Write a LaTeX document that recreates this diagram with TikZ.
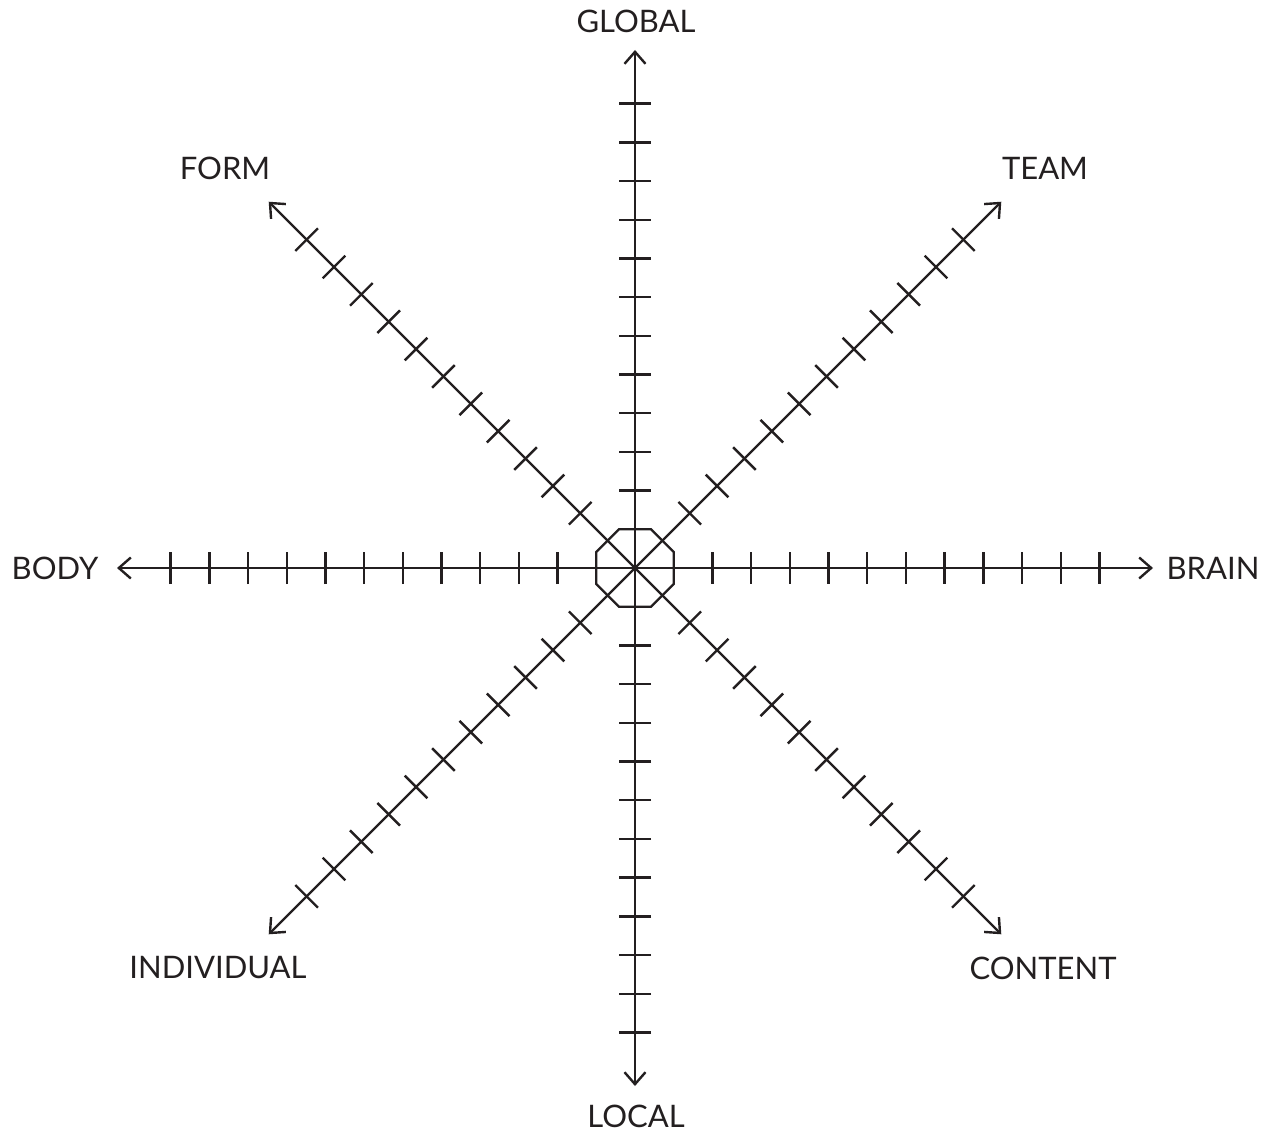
\documentclass[tikz,border=0pt]{standalone}
\usepackage{fontspec}
\setmainfont{Lato}
\usetikzlibrary{arrows.meta,calc}
\definecolor{ink}{HTML}{231F20}
\begin{document}
\begin{tikzpicture}[x=1pt,y=-1pt,
  axis/.style={draw=ink,line width=2.4pt,-{Straight Barb[length=12pt,width=21pt,line width=2.4pt]}},
  tickmark/.style={draw=ink,line width=2.4pt},
  lbl/.style={text=ink,font=\fontsize{31}{36}\selectfont,inner sep=0pt}]
\useasboundingbox (0,0) rectangle (1270,1132);
\coordinate (O) at (635,568);
\foreach \a/\n in {0/E,45/SE,90/S,135/SW,180/W,225/NW,270/N,315/NE}{
  \coordinate (\n) at ($(O)+(\a:518)$);
}
% axes
\foreach \n in {E,SE,S,SW,W,NW,N,NE}{
  \draw[axis] (O) -- (\n);
}
% ticks
\foreach \a in {0,45,...,315}{
  \begin{scope}[shift={(O)},rotate=\a]
    \foreach \k in {2,...,12}{
      \draw[tickmark] (\k*38.7,-16) -- (\k*38.7,16);
    }
  \end{scope}
}
% central octagon
\draw[tickmark,line join=miter] ($(O)+(22.5:41.9)$)
  \foreach \b in {67.5,112.5,...,337.5}{ -- ($(O)+(\b:41.9)$) } -- cycle;
% labels
\node[lbl] (global) at (636,21) {GLOBAL};
\node[lbl] (local) at (636,1116) {LOCAL};
\node[lbl] (body) at (55,568) {BODY};
\node[lbl] (brain) at (1213,568) {BRAIN};
\node[lbl] (form) at (225,168) {FORM};
\node[lbl] (team) at (1045,168) {TEAM};
\node[lbl] (individual) at (218,968) {INDIVIDUAL};
\node[lbl] (content) at (1043,968) {CONTENT};
\end{tikzpicture}
\end{document}
